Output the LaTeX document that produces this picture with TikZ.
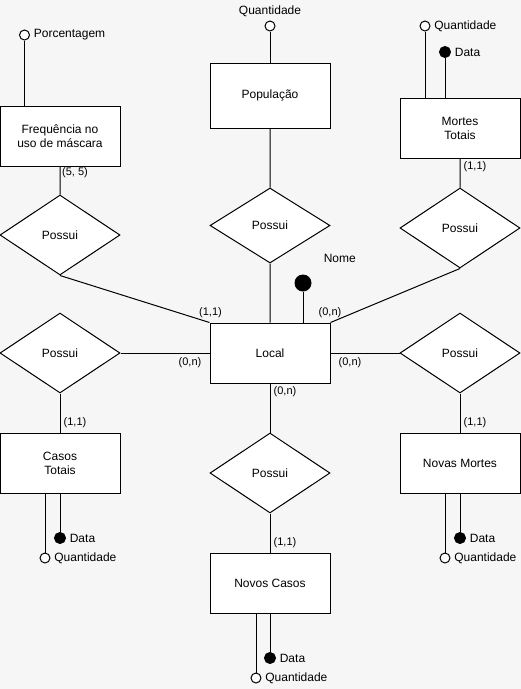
\documentclass[tikz,border=0pt]{standalone}
\usepackage{fontspec}
\setmainfont{Liberation Sans}
\usetikzlibrary{shapes.geometric}
\definecolor{fundo}{HTML}{F6F6F6}
\begin{document}
\begin{tikzpicture}[x=1pt,y=-1pt,line width=1pt,
	entidade/.style={draw,fill=white,minimum width=120pt,minimum height=60pt,align=center,font=\fontsize{12}{14}\selectfont},
	relacao/.style={diamond,draw,fill=white,minimum width=120pt,minimum height=80pt,inner sep=0pt,font=\fontsize{12}{14}\selectfont},
	atrib/.style={circle,draw,fill=white,inner sep=0pt,minimum size=10pt,label={[font=\fontsize{12}{14}\selectfont]#1}},
	chave/.style={atrib=#1,fill=black,minimum size=11pt},
	card/.style={inner sep=0pt,font=\fontsize{11}{13}\selectfont}]
		\useasboundingbox (0,0) rectangle (521,689);
		\fill[fundo] (0,0) rectangle (521,689);
		\node[entidade] (freq) at (60,136) {Frequência no\\uso de máscara};
		\node[entidade,minimum height=65pt] (pop) at (270,95.5) {População};
		\node[entidade] (mortes) at (460,128) {Mortes\\Totais};
		\node[entidade] (local) at (270,353) {Local};
		\node[entidade] (casos) at (60,463) {Casos\\Totais};
		\node[entidade] (novasM) at (460,463) {Novas Mortes};
		\node[entidade] (novosC) at (270,583) {Novos Casos};
		\node[relacao] (r1) at (60,235) {Possui};
		\node[relacao,minimum height=75pt] (r2) at (270,225.5) {Possui};
		\node[relacao] (r3) at (460,228) {Possui};
		\node[relacao] (r4) at (60,353) {Possui};
		\node[relacao] (r5) at (460,353) {Possui};
		\node[relacao] (r6) at (270,473) {Possui};
		\node[atrib=right:Porcentagem] (porc) at (24.5,35) {};
		\node[atrib=above:Quantidade] (popQtd) at (270,26) {};
		\node[atrib=right:Quantidade] (mortesQtd) at (425,26) {};
		\node[chave=right:Data] (mortesData) at (445,52) {};
		\node[circle,fill=black,inner sep=0pt,minimum size=17pt,label={[font=\fontsize{12}{14}\selectfont,label distance=15pt]45:Nome}] (nome) at (303,283) {};
		\node[chave=right:Data] (casosData) at (60,538) {};
		\node[atrib=right:Quantidade] (casosQtd) at (45,558) {};
		\node[chave=right:Data] (novasMData) at (460,538) {};
		\node[atrib=right:Quantidade] (novasMQtd) at (445,558) {};
		\node[chave=right:Data] (novosCData) at (270,658) {};
		\node[atrib=right:Quantidade] (novosCQtd) at (256,678) {};
		\node[card] (k1) at (75,173) {(5, 5)};
		\node[card] (k2) at (475,167) {(1,1)};
		\node[card] (k3) at (210.5,313) {(1,1)};
		\node[card] (k4) at (330,313) {(0,n)};
		\node[card] (k5) at (190,363) {(0,n)};
		\node[card] (k6) at (350,363) {(0,n)};
		\node[card] (k7) at (285,392) {(0,n)};
		\node[card] (k8) at (75,423) {(1,1)};
		\node[card] (k9) at (475,423) {(1,1)};
		\node[card] (k10) at (285,543) {(1,1)};
		\draw (freq.south) -- (r1.north) (r1.south) -- (local.north west) (pop.south) -- (r2.north) (r2.south) -- (local.north) (mortes.south) -- (r3.north) (r3.south) -- (local.north east);
		\draw (r4.east) -- (local.west) (r4.south) -- (casos.north) (local.east) -- (r5.west) (r5.south) -- (novasM.north) (local.south) -- (r6.north) (r6.south) -- (novosC.north);
		\draw (porc) -- (porc |- freq.north) (popQtd) -- (pop.north) (mortesQtd) -- (mortesQtd |- mortes.north) (mortesData) -- (mortesData |- mortes.north) (nome) -- (nome |- local.north);
		\draw (casosData) -- (casosData |- casos.south) (casosQtd) -- (casosQtd |- casos.south) (novasMData) -- (novasMData |- novasM.south) (novasMQtd) -- (novasMQtd |- novasM.south) (novosCData) -- (novosCData |- novosC.south) (novosCQtd) -- (novosCQtd |- novosC.south);
	\end{tikzpicture}
\end{document}
